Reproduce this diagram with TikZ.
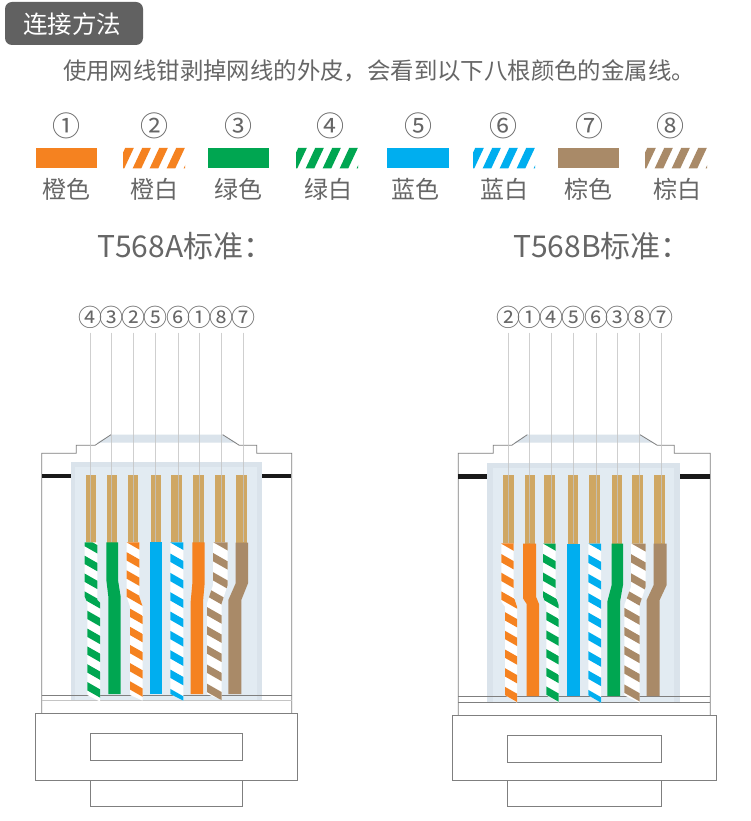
\documentclass[tikz,border=0pt]{standalone}
\usepackage{fontspec}
\setmainfont{Noto Sans CJK SC}
\definecolor{cOr}{HTML}{F58220}
\definecolor{cGr}{HTML}{00A651}
\definecolor{cBl}{HTML}{00AEEF}
\definecolor{cBr}{HTML}{A98A68}
\definecolor{cGold}{HTML}{CFA763}
\definecolor{cPanel}{HTML}{DAE3EB}
\definecolor{cInner}{HTML}{E2EBF2}
\definecolor{cLine}{HTML}{7F7F7F}
\definecolor{cText}{HTML}{666666}
\definecolor{cGuide}{HTML}{C4C4C4}
\newcommand{\fs}[1]{\fontsize{#1}{#1}\selectfont}
% striped wire: colour, x0, y0, period, polygon
\newcommand{\wireS}[5]{%
  \fill[white] #5 -- cycle;
  \begin{scope}
    \clip #5 -- cycle;
    \foreach \k in {0,...,10} {
      \pgfmathsetmacro{\yy}{#3+\k*#4}
      \fill[#1] ({#2-60},{\yy-34.2-12.5}) -- ({#2+60},{\yy+34.2-12.5}) -- ({#2+60},{\yy+34.2+12.5}) -- ({#2-60},{\yy-34.2+12.5}) -- cycle;
    }
  \end{scope}}
\newcommand{\wireP}[2]{\fill[#1] #2 -- cycle;}
% legend swatch
\newcommand{\swatchS}[2]{%
  \begin{scope}
    \clip (#2,148) rectangle ({#2+62},168.3);
    \foreach \k in {-1,...,4} {
      \pgfmathsetmacro{\xx}{#2+9.7+\k*17}
      \fill[#1] (\xx,168.3) -- ({\xx+8.6},168.3) -- ({\xx+18.1},148) -- ({\xx+9.5},148) -- cycle;
    }
  \end{scope}}
\begin{document}
\begin{tikzpicture}[x=1pt,y=-1pt,
  outline/.style={draw=cLine,line width=.8pt},
  guide/.style={draw=cGuide,line width=.6pt,opacity=.8},
  circ/.style={text=cText,inner sep=0pt,font=\fs{24}},
  legnum/.style={text=cText,inner sep=0pt,font=\fs{28}},
  leglab/.style={text=cText,inner sep=0pt,font=\fs{24}},
  heading/.style={text=cText,inner sep=0pt,anchor=west,font=\fs{30}}]
\useasboundingbox[fill=white] (0,0) rectangle (750,821);

% header
\fill[cText!95!black,rounded corners=7pt] (5,2) rectangle (143,45);
\node[text=white,inner sep=0pt,font=\fs{24.5}] (title) at (72,24) {连接方法};
\node[text=cText,inner sep=0pt,font=\fs{23.4}] (sub) at (379,71) {使用网线钳剥掉网线的外皮，会看到以下八根颜色的金属线。};

% legend
\fill[cOr] (35.7,148) rectangle (97.3,168.3);
\swatchS{cOr}{123}
\fill[cGr] (207.7,148) rectangle (269.3,168.3);
\swatchS{cGr}{296}
\fill[cBl] (387,148) rectangle (448.6,168.3);
\swatchS{cBl}{473}
\fill[cBr] (557.5,148) rectangle (619,168.3);
\swatchS{cBr}{645}
\node[legnum] (n1) at (66.5,125.5) {①};
\node[legnum] (n2) at (154,125.5) {②};
\node[legnum] (n3) at (238.5,125.5) {③};
\node[legnum] (n4) at (330,125.5) {④};
\node[legnum] (n5) at (418,125.5) {⑤};
\node[legnum] (n6) at (503,125.5) {⑥};
\node[legnum] (n7) at (589,125.5) {⑦};
\node[legnum] (n8) at (670,125.5) {⑧};
\node[leglab] (l1) at (66.5,189) {橙色};
\node[leglab] (l2) at (154,189) {橙白};
\node[leglab] (l3) at (238.5,189) {绿色};
\node[leglab] (l4) at (328.5,189) {绿白};
\node[leglab] (l5) at (415,189) {蓝色};
\node[leglab] (l6) at (504,189) {蓝白};
\node[leglab] (l7) at (588,189) {棕色};
\node[leglab] (l8) at (677,189) {棕白};
\node[heading] (ha) at (97,246) {T568A标准：};
\node[heading] (hb) at (513,246) {T568B标准：};

% circled order labels
\foreach \t/\x [count=\i] in {④/90.3,③/111.5,②/133.5,⑤/155.5,⑥/178,①/199,⑧/221.5,⑦/243}
  \node[circ] (a\i) at (\x,317.5) {\t};
\foreach \t/\x [count=\i] in {②/508,①/529,④/551,⑤/573,⑥/596,③/617,⑧/639,⑦/661}
  \node[circ] (b\i) at (\x,317.5) {\t};

% ===== left connector (coordinates of a 3x crop) =====
\begin{scope}[shift={(30pt,-420pt)},x=.33333pt,y=-.33333pt]
  \fill[cPanel] (201,68) -- (243,44) -- (578,44) -- (620,68) -- cycle;
  \draw[outline] (35,880) -- (35,100) -- (139,100) -- (139,76) -- (195,76) -- (243,44);
  \draw[outline] (578,44) -- (628,76) -- (680,76) -- (680,100) -- (785,100) -- (785,880);
  \fill[cPanel] (122,127) rectangle (695,840);
  \fill[cInner] (136,142) rectangle (680,840);
  \fill[black!90] (37,161) rectangle (122,175);
  \fill[black!90] (695,161) rectangle (784,175);
  \draw[outline] (35,825) -- (785,825);
  \draw[draw=cGuide,line width=1pt] (35,840) -- (785,840);
  \foreach \x in {167,230,294,362,424,490,554,619}
    \fill[cGold] (\x,165) rectangle ({\x+31},370);
  \wireS{cGr}{183}{377}{53.5}{(164,367) -- (202,367) -- (202,540) -- (210,548) -- (210,845) -- (172,825) -- (172,548) -- (164,530)}
  \wireP{cGr}{(229,367) -- (264,367) -- (264,480) -- (272,530) -- (272,822) -- (235,822) -- (235,530) -- (229,480)}
  \wireS{cOr}{310}{366}{54.5}{(290,367) -- (328,367) -- (328,530) -- (338,560) -- (338,842) -- (300,825) -- (300,560) -- (290,530)}
  \wireP{cBl}{(359,365) -- (396,365) -- (396,822) -- (359,822)}
  \wireS{cBl}{440}{366}{58}{(421,367) -- (460,367) -- (460,842) -- (421,822)}
  \wireP{cOr}{(487,367) -- (524,367) -- (524,490) -- (519,545) -- (519,822) -- (482,822) -- (482,545) -- (487,490)}
  \wireS{cBr}{565}{363}{57.5}{(549,367) -- (593,367) -- (593,495) -- (575,550) -- (575,840) -- (531,822) -- (531,550) -- (549,495)}
  \wireP{cBr}{(617,368) -- (654,368) -- (654,490) -- (634,540) -- (634,822) -- (595,822) -- (595,540) -- (617,490)}
  \foreach \i in {1,...,8}
    \draw[guide] (a\i.south |- 0,-262) -- (a\i.south |- 0,367);
\end{scope}
% left plug
\draw[outline] (35.7,713.3) rectangle (297.3,780.3);
\draw[outline] (90.3,733.3) rectangle (242.3,760.3);
\draw[outline] (90.3,780.3) rectangle (242.3,806.3);

% ===== right connector =====
\begin{scope}[shift={(450pt,-420pt)},x=.33333pt,y=-.33333pt]
  \fill[cPanel] (192,68) -- (232,44) -- (570,44) -- (612,68) -- cycle;
  \draw[outline] (25,885) -- (25,100) -- (130,100) -- (130,76) -- (185,76) -- (232,44);
  \draw[outline] (570,44) -- (622,76) -- (673,76) -- (673,100) -- (781,100) -- (781,885);
  \fill[cPanel] (112,128) rectangle (690,848);
  \fill[cInner] (128,143) rectangle (672,848);
  \fill[black!90] (25,162) rectangle (112,176);
  \fill[black!90] (690,162) rectangle (780,176);
  \draw[outline] (25,828) -- (781,828);
  \draw[outline] (25,848) -- (781,848);
  \foreach \x in {160,224,283,354,418,486,547,613}
    \fill[cGold] (\x,165) rectangle ({\x+31},373);
  \wireS{cOr}{172}{369}{56}{(154,370) -- (191,370) -- (191,530) -- (201,560) -- (201,848) -- (165,826) -- (165,560) -- (154,545)}
  \wireP{cOr}{(219,371) -- (258,371) -- (258,530) -- (267,552) -- (267,828) -- (230,828) -- (230,552) -- (219,535)}
  \wireS{cGr}{298}{369}{56}{(279,371) -- (317,371) -- (317,530) -- (326,555) -- (326,848) -- (289,826) -- (289,555) -- (279,530)}
  \wireP{cBl}{(352,371) -- (390,371) -- (390,828) -- (352,828)}
  \wireS{cBl}{434}{369}{58}{(415,371) -- (453,371) -- (453,848) -- (415,826)}
  \wireP{cGr}{(485,371) -- (519,371) -- (519,495) -- (510,545) -- (510,828) -- (472,828) -- (472,545) -- (485,495)}
  \wireS{cBr}{560}{367}{57.5}{(543,371) -- (587,371) -- (587,500) -- (569,555) -- (569,848) -- (523,826) -- (523,555) -- (543,500)}
  \wireP{cBr}{(611,371) -- (650,371) -- (650,495) -- (629,540) -- (629,828) -- (590,828) -- (590,540) -- (611,495)}
  \foreach \i in {1,...,8}
    \draw[guide] (b\i.south |- 0,-262) -- (b\i.south |- 0,370);
\end{scope}
% right plug
\draw[outline] (452.5,715) rectangle (716,780.3);
\draw[outline] (507,735) rectangle (661,762);
\draw[outline] (507,780.3) rectangle (661,806.3);
\end{tikzpicture}
\end{document}
